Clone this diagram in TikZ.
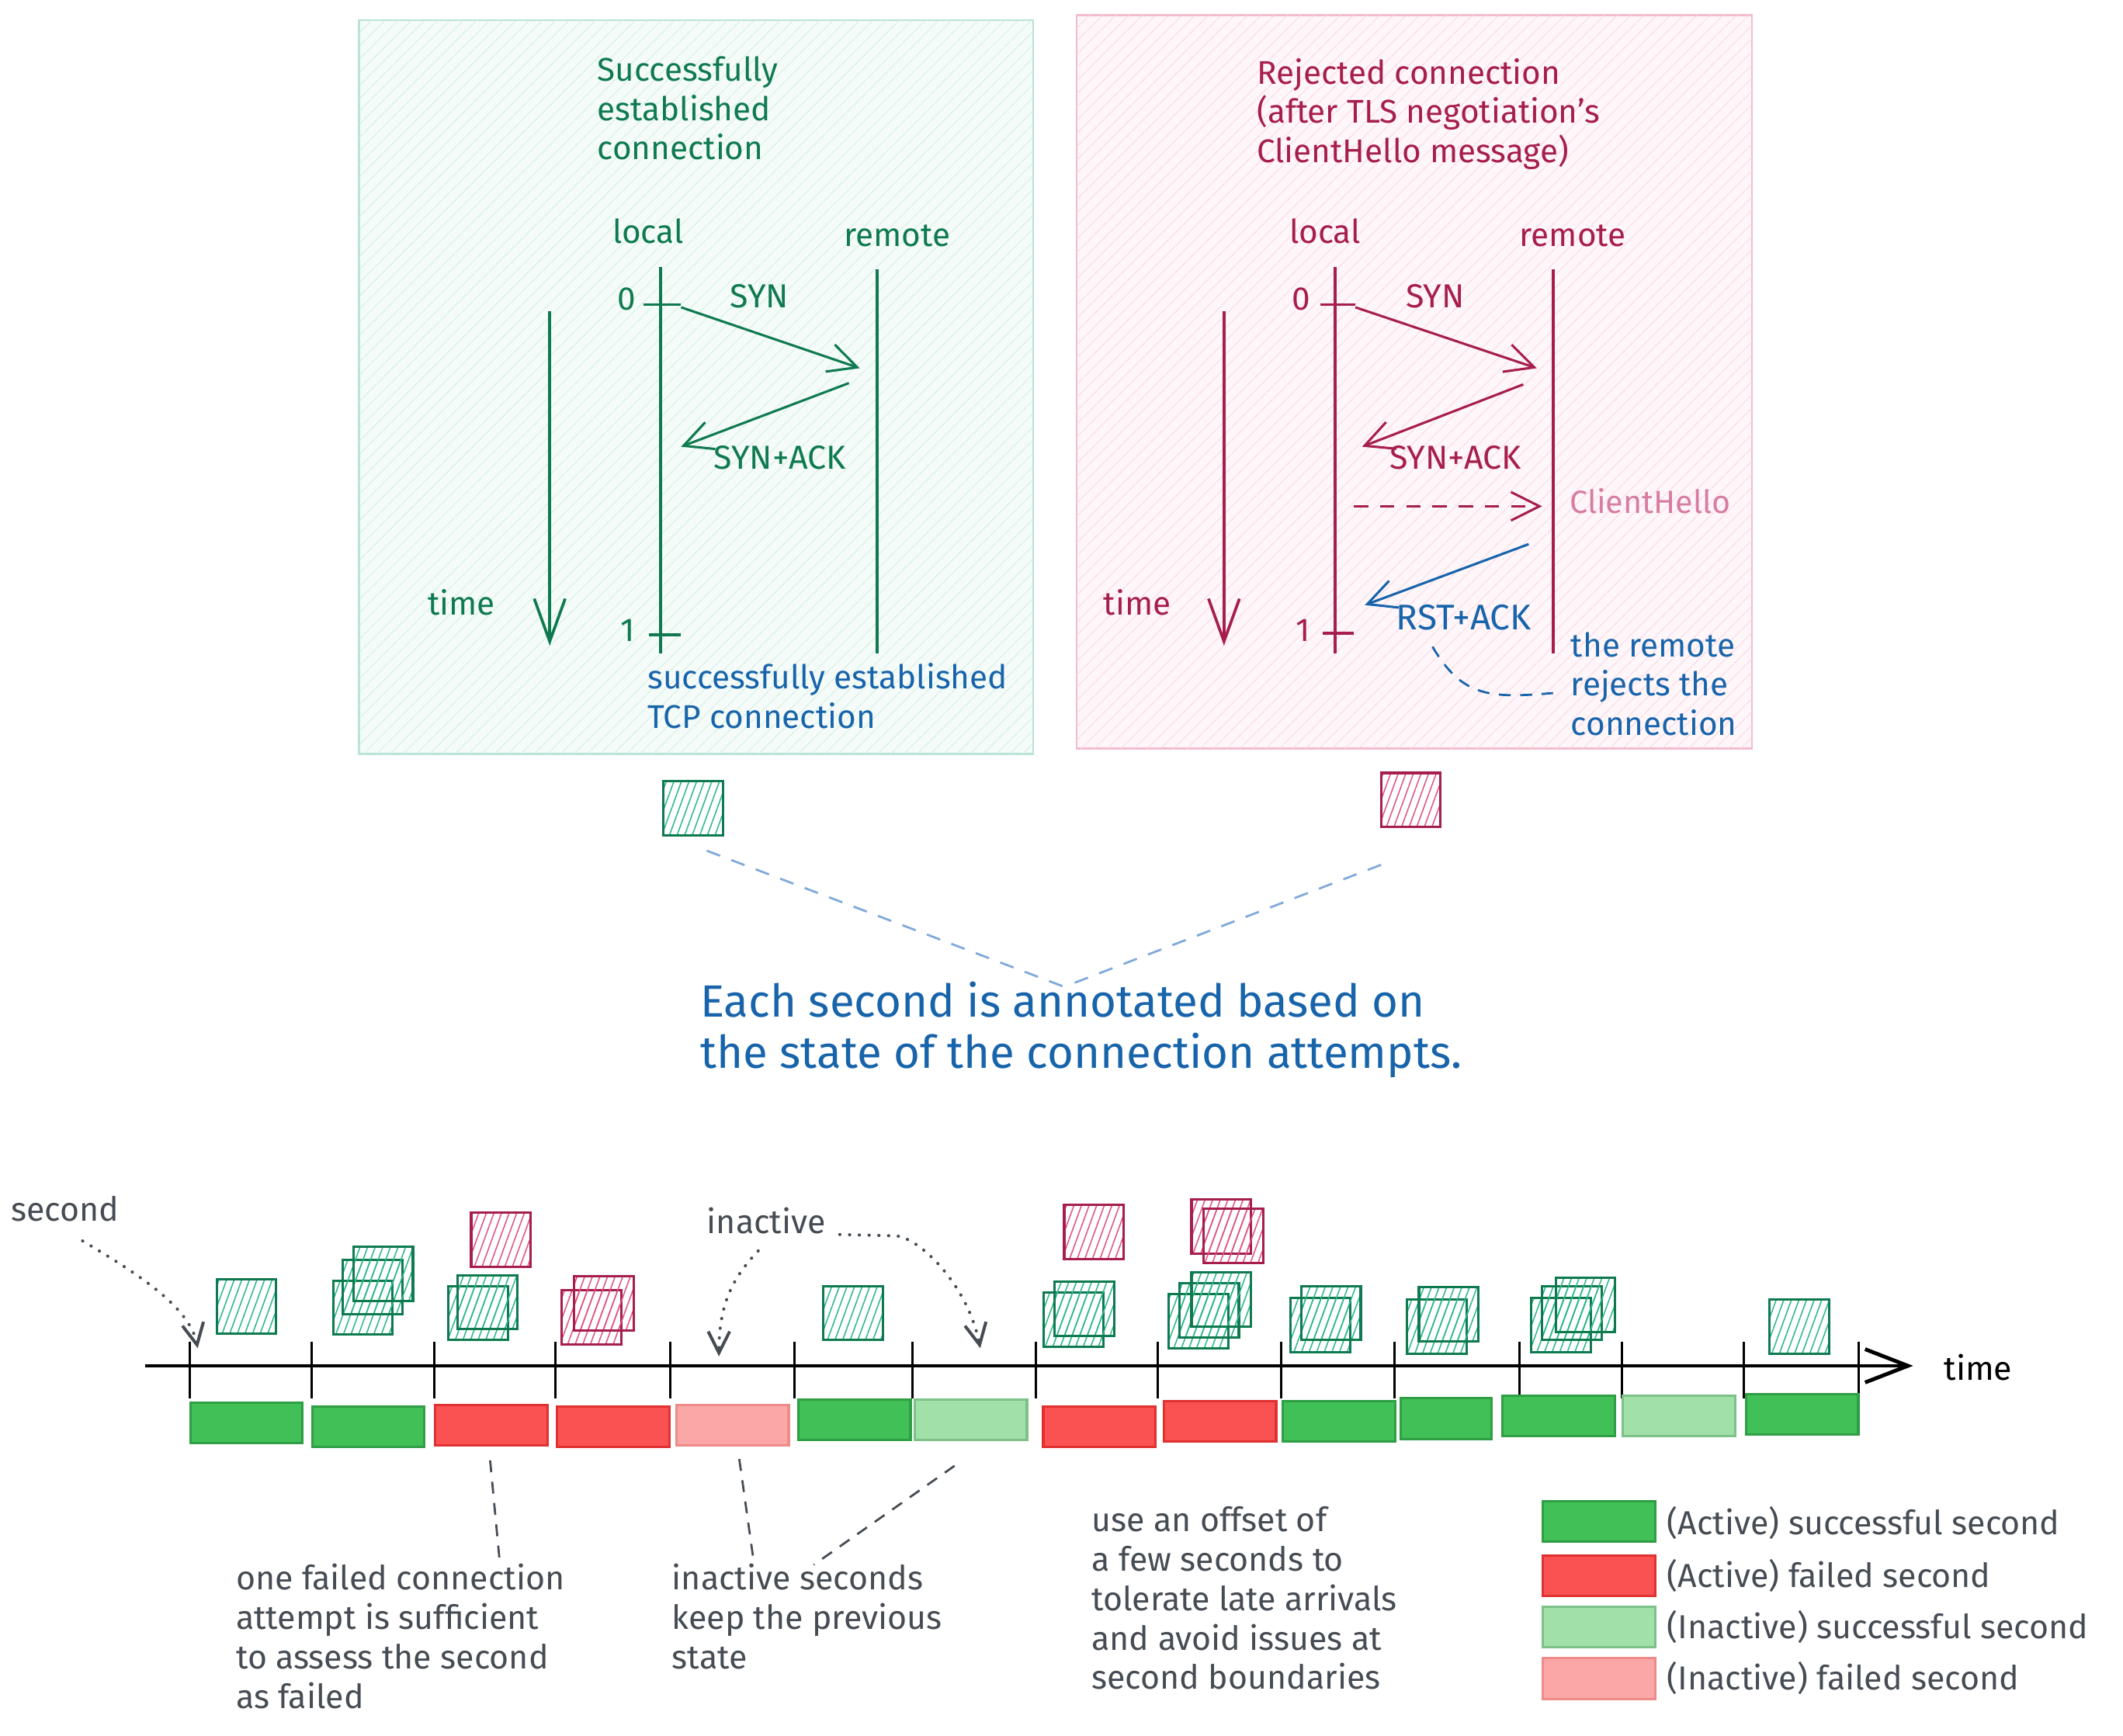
\documentclass[tikz,border=0pt]{standalone}
\usepackage{fontspec}
\setmainfont{Fira Sans}
\usepackage{tikz}
\usetikzlibrary{calc}
\usetikzlibrary{arrows.meta,patterns.meta,positioning}

\definecolor{okink}{HTML}{0F7A50}
\definecolor{failink}{HTML}{A61E4D}
\definecolor{hellopink}{HTML}{D77EA0}
\definecolor{noteblue}{HTML}{1864AB}
\definecolor{linkblue}{HTML}{7FA9DB}
\definecolor{inkgray}{HTML}{464C53}
\definecolor{okpanelfill}{HTML}{F4FBF8}
\definecolor{okpanelline}{HTML}{B9E3D4}
\definecolor{okpanelhatch}{HTML}{CFEEE2}
\definecolor{failpanelfill}{HTML}{FFF6F9}
\definecolor{failpanelline}{HTML}{F2BCCB}
\definecolor{failpanelhatch}{HTML}{F8D4E0}
\definecolor{okhatch}{HTML}{2DB88C}
\definecolor{failhatch}{HTML}{E0557F}
\definecolor{okfill}{HTML}{40C057}
\definecolor{okdraw}{HTML}{2F9E44}
\definecolor{failfill}{HTML}{FA5252}
\definecolor{faildraw}{HTML}{E03131}
\definecolor{idleokfill}{HTML}{A2E0A9}
\definecolor{idleokdraw}{HTML}{7CC187}
\definecolor{idlefailfill}{HTML}{FCA7A7}
\definecolor{idlefaildraw}{HTML}{EE8A8A}

\tikzset{
  okpanel/.style={rectangle,draw=okpanelline,line width=0.8pt,fill=okpanelfill,
    postaction={pattern={Lines[angle=45,distance=4pt,line width=0.4pt]},pattern color=okpanelhatch}},
  failpanel/.style={rectangle,draw=failpanelline,line width=0.8pt,fill=failpanelfill,
    postaction={pattern={Lines[angle=45,distance=4pt,line width=0.4pt]},pattern color=failpanelhatch}},
  paneltext/.style={font=\fontsize{13.8}{16.5}\selectfont,align=left,inner sep=0pt},
  msgtext/.style={font=\fontsize{14}{16}\selectfont,inner sep=0pt},
  graytext/.style={font=\fontsize{14}{16.6}\selectfont,align=left,inner sep=0pt,text=inkgray},
  lifeline/.style={line width=1.2pt},
  msgarrow/.style={line width=1pt,arrows=-{Straight Barb[length=12pt,width=12pt]}},
  timearrow/.style={line width=1.2pt,arrows=-{Straight Barb[length=18pt,width=13pt]}},
  okmark/.style={rectangle,draw=okink,line width=1pt,minimum width=0.88cm,minimum height=0.8cm,inner sep=0pt,
    pattern={Lines[angle=70,distance=3pt,line width=0.5pt]},pattern color=okhatch},
  failmark/.style={rectangle,draw=failink,line width=1pt,minimum width=0.88cm,minimum height=0.8cm,inner sep=0pt,
    pattern={Lines[angle=70,distance=3pt,line width=0.5pt]},pattern color=failhatch},
  secbar/.style={rectangle,line width=1pt,minimum width=1.66cm,minimum height=0.6cm,inner sep=0pt},
  okbar/.style={secbar,fill=okfill,draw=okdraw},
  failbar/.style={secbar,fill=failfill,draw=faildraw},
  idleokbar/.style={secbar,fill=idleokfill,draw=idleokdraw},
  idlefailbar/.style={secbar,fill=idlefailfill,draw=idlefaildraw},
  secticks/.style={line width=1pt},
  dotlink/.style={draw=inkgray,line width=1.3pt,dash pattern=on 0.1pt off 4pt,line cap=round,
    arrows=-{Straight Barb[length=9pt,width=9pt]}},
  dashlink/.style={draw=inkgray,line width=0.9pt,dash pattern=on 5pt off 4pt},
}

\begin{document}
\begin{tikzpicture}[x=0.02cm,y=-0.02cm]
\useasboundingbox (0,0) rectangle (1568,1282);

%draw the two panels
\node[okpanel,minimum width=9.96cm,minimum height=10.84cm] at (514,286) (okframe) {};
\node[failpanel,minimum width=9.98cm,minimum height=10.84cm] at (1044.5,282) (failframe) {};

%%%%%%% successful connection

% (multi line texts sit on the baseline of their last line)
\node[paneltext,text=okink,anchor=base west] at (441,118) (oktitle) {Successfully\\established\\connection};
\node[paneltext,text=okink,anchor=base west] at (452,180) (oklocal) {local};
\node[paneltext,text=okink,anchor=base west] at (623,182) (okremote) {remote};

\coordinate (OKLOCALTOP) at (488,197);
\coordinate (OKLOCALBOT) at (488,483);
\coordinate (OKREMOTETOP) at (648,199);
\coordinate (OKREMOTEBOT) at (648,483);
\draw[lifeline,okink] (OKLOCALTOP) -- (OKLOCALBOT);
\draw[lifeline,okink] (OKREMOTETOP) -- (OKREMOTEBOT);
\draw[lifeline,okink] (OKLOCALTOP) ++(-13,28) -- ++(28,0);
\draw[lifeline,okink] (OKLOCALBOT) ++(-9,-14) -- ++(24,0);
\node[paneltext,text=okink,anchor=east] at (470,221) (okzero) {0};
\node[paneltext,text=okink,anchor=east] at (469,466) (okone) {1};

\coordinate (OKSYNA) at (503,227);
\coordinate (OKSYNB) at (635,272);
\coordinate (OKACKA) at (627,283);
\coordinate (OKACKB) at (503,330);
\draw[msgarrow,okink] (OKSYNA) -- (OKSYNB);
\draw[msgarrow,okink] (OKACKA) -- (OKACKB);
\node[msgtext,text=okink] at (561,219) (oksyn) {SYN};
\node[msgtext,text=okink] at (576,338) (oksynack) {SYN+ACK};

\coordinate (OKTIMETOP) at (406,230);
\coordinate (OKTIMEBOT) at (406,477);
\draw[timearrow,okink] (OKTIMETOP) -- (OKTIMEBOT);
\node[paneltext,text=okink] at (341,445) (oktime) {time};

\node[paneltext,text=noteblue,anchor=base west] at (478,538) (oknote) {successfully established\\TCP connection};

%%%%%%% rejected connection

\node[paneltext,text=failink,anchor=base west] at (928,120) (failtitle) {Rejected connection\\(after TLS negotiation's\\ClientHello message)};
\node[paneltext,text=failink,anchor=base west] at (952,180) (faillocal) {local};
\node[paneltext,text=failink,anchor=base west] at (1122,182) (failremote) {remote};

\coordinate (FAILLOCALTOP) at (986,197);
\coordinate (FAILLOCALBOT) at (986,483);
\coordinate (FAILREMOTETOP) at (1147,199);
\coordinate (FAILREMOTEBOT) at (1147,483);
\draw[lifeline,failink] (FAILLOCALTOP) -- (FAILLOCALBOT);
\draw[lifeline,failink] (FAILREMOTETOP) -- (FAILREMOTEBOT);
\draw[lifeline,failink] (FAILLOCALTOP) ++(-11,28) -- ++(26,0);
\draw[lifeline,failink] (FAILLOCALBOT) ++(-9,-15) -- ++(23,0);
\node[paneltext,text=failink,anchor=east] at (968,221) (failzero) {0};
\node[paneltext,text=failink,anchor=east] at (968,466) (failone) {1};

\coordinate (FAILSYNA) at (1001,227);
\coordinate (FAILSYNB) at (1135,272);
\coordinate (FAILACKA) at (1125,284);
\coordinate (FAILACKB) at (1006,330);
\coordinate (HELLOA) at (1000,374);
\coordinate (HELLOB) at (1139,374);
\coordinate (RSTA) at (1129,402);
\coordinate (RSTB) at (1008,447);
\draw[msgarrow,failink] (FAILSYNA) -- (FAILSYNB);
\draw[msgarrow,failink] (FAILACKA) -- (FAILACKB);
\draw[msgarrow,failink,dash pattern=on 6pt off 5pt] (HELLOA) -- (HELLOB);
\draw[msgarrow,noteblue] (RSTA) -- (RSTB);
\node[msgtext,text=failink] at (1060,219) (failsyn) {SYN};
\node[msgtext,text=failink] at (1075,338) (failsynack) {SYN+ACK};
\node[msgtext,text=hellopink,anchor=west,font=\fontsize{13.5}{16}\selectfont] at (1159,370) (hello) {ClientHello};
\node[msgtext,text=noteblue,font=\fontsize{15}{16}\selectfont] at (1081,456) (rstack) {RST+ACK};

\coordinate (FAILTIMETOP) at (904,230);
\coordinate (FAILTIMEBOT) at (904,477);
\draw[timearrow,failink] (FAILTIMETOP) -- (FAILTIMEBOT);
\node[paneltext,text=failink] at (840,445) (failtime) {time};

\node[paneltext,text=noteblue,anchor=base west] at (1160,543) (failnote) {the remote\\rejects the\\connection};
\draw[noteblue,line width=0.9pt,dash pattern=on 5pt off 4pt] ($(rstack.south)+(-23,12)$) .. controls (1080,515) and (1100,516) .. (1147,512);

%%%%%%% summary

\node[okmark] at (512,597) (okmark) {};
\node[failmark] at (1042,591) (failmark) {};
\node[paneltext,text=noteblue,font=\fontsize{19}{21.6}\selectfont,anchor=base west] at (517,789) (annot) {Each second is annotated based on\\the state of the connection attempts.};
\coordinate (ANNOTTIP) at (786,729);
\draw[linkblue,line width=0.9pt,dash pattern=on 6pt off 5pt] ($(okmark.south)+(10,11)$) -- (ANNOTTIP);
\draw[linkblue,line width=0.9pt,dash pattern=on 6pt off 5pt] ($(failmark.south)+(-22,27)$) -- (ANNOTTIP);

%%%%%%% time line

\coordinate (AXISSTART) at (107,1009);
\coordinate (AXISEND) at (1413,1009);
\draw[line width=1.6pt,arrows=-{Straight Barb[length=18pt,width=14pt]}] (AXISSTART) -- (AXISEND);
\node[msgtext,font=\fontsize{14}{16}\selectfont] at (1461,1010) (axistime) {time};

\draw[secticks] (140,991) -- ++(0,42);
\draw[secticks] (230,991) -- ++(0,42);
\draw[secticks] (321,991) -- ++(0,42);
\draw[secticks] (410,991) -- ++(0,42);
\draw[secticks] (495,991) -- ++(0,42);
\draw[secticks] (587,991) -- ++(0,42);
\draw[secticks] (674,991) -- ++(0,42);
\draw[secticks] (765,991) -- ++(0,42);
\draw[secticks] (855,991) -- ++(0,42);
\draw[secticks] (946,991) -- ++(0,42);
\draw[secticks] (1030,991) -- ++(0,42);
\draw[secticks] (1122,991) -- ++(0,42);
\draw[secticks] (1198,991) -- ++(0,42);
\draw[secticks] (1288,991) -- ++(0,42);
\draw[secticks] (1373,991) -- ++(0,42);

%connection attempts in each second
\node[okmark] at (182,965) (try1) {};
\node[okmark] at (268,966) (try2a) {};
\node[okmark] at (275,951) (try2b) {};
\node[okmark] at (283,941) (try2c) {};
\node[failmark] at (370,916) (try3a) {};
\node[okmark] at (353,970) (try3b) {};
\node[okmark] at (360,962) (try3c) {};
\node[failmark] at (437,973) (try4a) {};
\node[failmark] at (446,963) (try4b) {};
\node[okmark] at (630,970) (try6) {};
\node[failmark] at (808,910) (try8a) {};
\node[okmark] at (793,975) (try8b) {};
\node[okmark] at (801,967) (try8c) {};
\node[failmark] at (902,906) (try9a) {};
\node[failmark] at (911,913) (try9b) {};
\node[okmark] at (885,976) (try9c) {};
\node[okmark] at (893,968) (try9d) {};
\node[okmark] at (902,960) (try9e) {};
\node[okmark] at (975,979) (try10a) {};
\node[okmark] at (983,970) (try10b) {};
\node[okmark] at (1061,980) (try11a) {};
\node[okmark] at (1070,971) (try11b) {};
\node[okmark] at (1153,979) (try12a) {};
\node[okmark] at (1161,970) (try12b) {};
\node[okmark] at (1171,964) (try12c) {};
\node[okmark] at (1329,980) (try14) {};

%state of each second
\node[okbar] at (182,1051) (sec1) {};
\node[okbar] at (272,1054) (sec2) {};
\node[failbar] at (363,1053) (sec3) {};
\node[failbar] at (453,1054) (sec4) {};
\node[idlefailbar] at (541,1053) (sec5) {};
\node[okbar] at (631,1049) (sec6) {};
\node[idleokbar] at (717,1049) (sec7) {};
\node[failbar] at (812,1054) (sec8) {};
\node[failbar] at (901,1050) (sec9) {};
\node[okbar] at (989,1050) (sec10) {};
\node[okbar,minimum width=1.34cm] at (1068,1048) (sec11) {};
\node[okbar] at (1151,1046) (sec12) {};
\node[idleokbar] at (1240,1046) (sec13) {};
\node[okbar] at (1331,1045) (sec14) {};

%labels above the time line
\node[graytext] at (48,893) (secondlbl) {second};
\coordinate (SECONDTIP) at (146,996);
\draw[dotlink] ($(secondlbl.south)+(13,14)$) .. controls (100,940) and (140,965) .. (SECONDTIP);

\node[graytext] at (566,902) (inactivelbl) {inactive};
\coordinate (IDLETIPA) at (531,1002);
\coordinate (IDLETIPB) at (724,996);
\draw[dotlink] ($(inactivelbl.south)+(-6,12)$) .. controls (540,945) and (531,965) .. (IDLETIPA);
\draw[dotlink] ($(inactivelbl.east)+(10,10)$) -- (662,913) .. controls (680,915) and (715,950) .. (IDLETIPB);

%notes below the time line
\node[graytext,anchor=base west] at (174,1262) (failnotelbl) {one failed connection\\attempt is sufficient\\to assess the second\\as failed};
\node[graytext,anchor=base west] at (496,1233) (idlenotelbl) {inactive seconds\\keep the previous\\state};
\node[graytext,anchor=base west] at (806,1248) (offsetlbl) {use an offset of\\a few seconds to\\tolerate late arrivals\\and avoid issues at\\second boundaries};
\draw[dashlink] ($(sec3.south)+(-1,10)$) -- (369,1153);
\draw[dashlink] ($(sec5.south)+(5,9)$) -- (557,1156);
\draw[dashlink] ($(sec7.south)+(-12,18)$) -- (601,1156);

%legend
\node[okbar] at (1181,1124) (keyok) {};
\node[failbar] at (1181,1164) (keyfail) {};
\node[idleokbar] at (1181,1202) (keyidleok) {};
\node[idlefailbar] at (1181,1240) (keyidlefail) {};
\node[graytext,anchor=west] at (1231,1125) {(Active) successful second};
\node[graytext,anchor=west] at (1231,1164) {(Active) failed second};
\node[graytext,anchor=west] at (1231,1202) {(Inactive) successful second};
\node[graytext,anchor=west] at (1231,1240) {(Inactive) failed second};

\end{tikzpicture}
\end{document}
